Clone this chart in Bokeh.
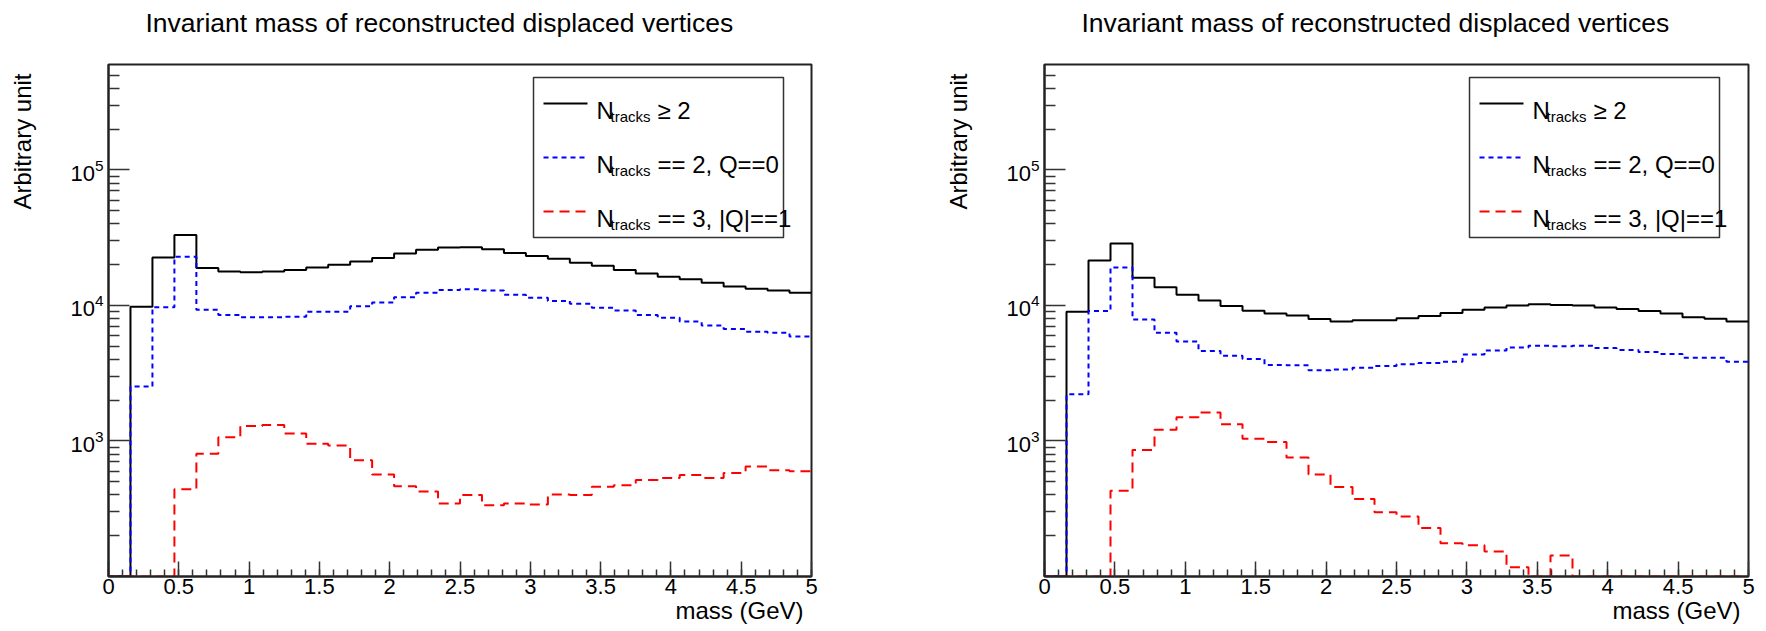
import numpy as np
from bokeh.plotting import figure
from bokeh.models import (Range1d, FixedTicker, LogTickFormatter, CustomJSTickFormatter,
                          Label, Title)
from bokeh.layouts import row
from bokeh.embed import file_html
from bokeh.resources import INLINE

# ---------------- data ----------------
N_BINS = 32
BIN_EDGES = [i * 5.0 / N_BINS for i in range(N_BINS + 1)]

LEFT_ALL = [0, 9800, 22600, 33100, 18900, 17800, 17600, 17800, 18300, 19100, 20000, 21100,
            22400, 24200, 25800, 26800, 26900, 26000, 24400, 23200, 22100, 20700, 19600, 18300,
            17200, 16300, 15600, 14700, 13800, 13300, 12900, 12400]
LEFT_Q0 = [0, 2520, 9700, 22900, 9300, 8500, 8170, 8170, 8250, 9000, 9000, 9850,
           10500, 11500, 12400, 13000, 13200, 12900, 12000, 11400, 10800, 10300, 9600, 9200,
           8500, 8100, 7600, 7100, 6700, 6400, 6300, 5900]
LEFT_Q1 = [0, 0, 0, 440, 805, 1065, 1290, 1310, 1135, 955, 925, 722,
           566, 463, 423, 346, 399, 336, 345, 340, 403, 399, 459, 471,
           516, 533, 560, 533, 581, 647, 608, 599]

RIGHT_ALL = [0, 8970, 21500, 28600, 16000, 13600, 12000, 10900, 9900, 9150, 8730, 8430,
             7930, 7610, 7770, 7770, 8040, 8370, 8790, 9280, 9660, 10000, 10200, 10100,
             10000, 9660, 9400, 9100, 8730, 8200, 7980, 7600]
RIGHT_Q0 = [0, 2210, 9100, 19100, 7870, 6280, 5410, 4620, 4260, 4030, 3640, 3620,
            3330, 3370, 3470, 3580, 3680, 3770, 3850, 4350, 4660, 4900, 5050, 5000,
            5050, 4850, 4690, 4530, 4380, 4110, 4110, 3850]
RIGHT_Q1 = [0, 0, 0, 430, 858, 1212, 1498, 1620, 1330, 1038, 982, 755,
            566, 458, 373, 298, 277, 228, 176, 170, 153, 117, 0, 143,
            0, 0, 0, 0, 0, 0, 0, 0]

TITLE = "Invariant mass of reconstructed displaced vertices"
Y_LABEL = "Arbitrary unit"
X_LABEL = "mass (GeV)"
LEGEND_MAIN = "N"
LEGEND_SUB = "tracks"
LEGEND_REST = ["\u2265 2", "== 2, Q==0", "== 3, |Q|==1"]
X_TICKS = [0, 0.5, 1, 1.5, 2, 2.5, 3, 3.5, 4, 4.5, 5]
Y_TICKS = [1e3, 1e4, 1e5]

# ---------------- style / layout ----------------
FONT = "Liberation Sans"
YMIN, YMAX = 100.0, 6.0e5
FL, FT, FH, FBOT = 108, 64, 512, 55
STYLES = [("black", None), ("#0000ff", "5 4"), ("#ff0000", "10 6")]


def spacer(size):
    return Title(text=" ", text_font_size="1px", standoff=size)


def make_panel(series, fw, border_right):
    p = figure(frame_width=fw, frame_height=FH, x_range=Range1d(0, 5),
               y_range=Range1d(YMIN, YMAX), title=None,
               y_axis_type="log", output_backend="svg", toolbar_location=None,
               min_border_left=FL, min_border_right=border_right,
               min_border_top=FT, min_border_bottom=FBOT)
    p.background_fill_color = "white"
    p.border_fill_color = "white"
    p.outline_line_color = "#222222"
    p.outline_line_width = 2
    p.xgrid.visible = False
    p.ygrid.visible = False

    ly0, ly1 = np.log10(YMIN), np.log10(YMAX)

    def X(px):
        return (px - FL) / fw * 5.0

    def Y(py):
        return 10 ** (ly0 + (FT + FH - py) / FH * (ly1 - ly0))

    # histograms
    for vals, (col, dash) in zip(series, STYLES):
        ys = [max(v, YMIN) for v in vals] + [max(vals[-1], YMIN)]
        kw = dict(line_color=col, line_width=2)
        if dash:
            kw["line_dash"] = dash
        p.step(BIN_EDGES, ys, mode="after", **kw)

    # axes
    xa = p.xaxis[0]
    xa.ticker = FixedTicker(ticks=X_TICKS, minor_ticks=[round(0.1 * i, 2) for i in range(51)])
    xa.formatter = CustomJSTickFormatter(code="return String(Math.round(tick*10)/10)")
    ya = p.yaxis[0]
    minors = [m * 10 ** e for e in range(2, 6) for m in range(2, 10) if m * 10 ** e < YMAX]
    ya.ticker = FixedTicker(ticks=Y_TICKS, minor_ticks=minors)
    ya.formatter = LogTickFormatter()
    for ax, mj, mn in ((xa, 15, 7), (ya, 21, 11)):
        ax.major_tick_in = mj
        ax.major_tick_out = 0
        ax.minor_tick_in = mn
        ax.minor_tick_out = 0
        ax.axis_line_width = 2
        ax.axis_line_color = "#222222"
        ax.major_tick_line_width = 1.5
        ax.minor_tick_line_width = 1.5
        ax.major_tick_line_color = "#333333"
        ax.minor_tick_line_color = "#333333"
        ax.major_label_text_font = FONT
        ax.major_label_text_font_size = "22px"
        ax.major_label_text_color = "black"
    xa.major_label_standoff = 2
    ya.major_label_standoff = 5

    # legend
    p.quad(left=[X(533)], right=[X(783)], top=[Y(77)], bottom=[Y(237)],
           fill_color="white", line_color="#333333", line_width=1.5)
    rows_y = [103, 157, 211]
    for ry, (col, dash), rest in zip(rows_y, STYLES, LEGEND_REST):
        kw = dict(line_color=col, line_width=2)
        if dash:
            kw["line_dash"] = dash
        p.line([X(543), X(587)], [Y(ry), Y(ry)], **kw)
        p.add_layout(Label(x=X(596), y=Y(ry + 6.5), text=LEGEND_MAIN, text_font=FONT,
                           text_font_size="24px", text_baseline="alphabetic", text_color="black"))
        p.add_layout(Label(x=X(610), y=Y(ry + 12.5), text=LEGEND_SUB, text_font=FONT,
                           text_font_size="15px", text_baseline="alphabetic", text_color="black"))
        p.add_layout(Label(x=X(657), y=Y(ry + 6.5), text=rest, text_font=FONT,
                           text_font_size="24px", text_baseline="alphabetic", text_color="black"))

    # title (above), y-axis title (left), x-axis title (below)
    p.add_layout(spacer(24), "above")
    p.add_layout(Title(text=TITLE, align="left", offset=37, standoff=0,
                       vertical_align="bottom", text_font=FONT, text_font_size="26.5px",
                       text_font_style="normal", text_color="black"), "above")
    p.add_layout(spacer(29), "left")
    p.add_layout(Title(text=Y_LABEL, align="right", offset=9, standoff=0,
                       vertical_align="bottom", text_font=FONT, text_font_size="24px",
                       text_font_style="normal", text_color="black"), "left")
    p.add_layout(Title(text=X_LABEL, align="right", offset=8, standoff=0,
                       vertical_align="top", text_font=FONT, text_font_size="24px",
                       text_font_style="normal", text_color="black"), "below")
    return p


p1 = make_panel([LEFT_ALL, LEFT_Q0, LEFT_Q1], 703, 125)
p2 = make_panel([RIGHT_ALL, RIGHT_Q0, RIGHT_Q1], 704, 1766 - 936 - FL - 704)
layout = row(p1, p2)
open("out.html", "w").write(file_html(layout, INLINE))
